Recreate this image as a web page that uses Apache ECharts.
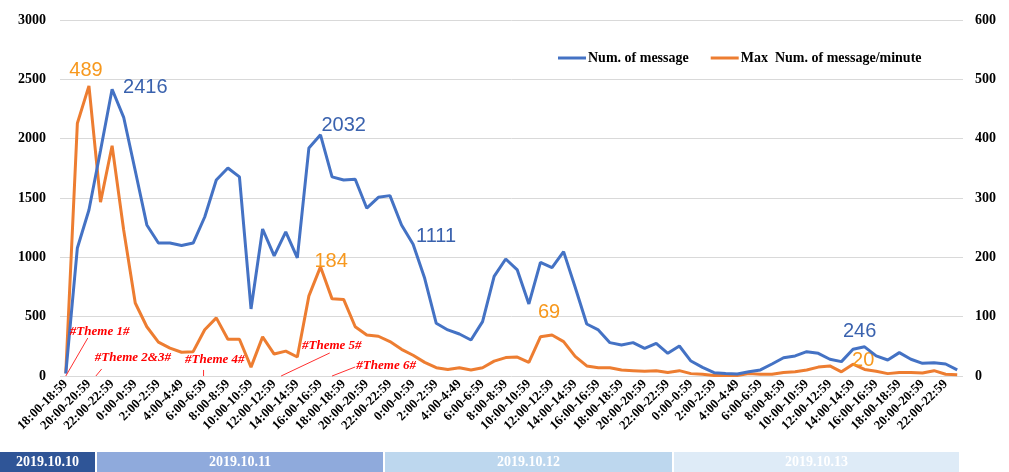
<!DOCTYPE html>
<html>
<head>
<meta charset="utf-8">
<script src="https://cdn.jsdelivr.net/npm/echarts@6/dist/echarts.min.js"></script>
<style>
html,body{margin:0;padding:0;background:#fff;}
#chart{width:1009px;height:472px;}
</style>
</head>
<body>
<div id="chart"></div>
<script>
// ---- data ----
var firstDayHours = ['18:00-18:59','19:00-19:59','20:00-20:59','21:00-21:59','22:00-22:59','23:00-23:59'];
var fullDayHours = ['0:00-0:59','1:00-1:59','2:00-2:59','3:00-3:59','4:00-4:49','5:00-5:59',
  '6:00-6:59','7:00-7:59','8:00-8:59','9:00-9:59','10:00-10:59','11:00-11:59',
  '12:00-12:59','13:00-13:59','14:00-14:59','15:00-15:59','16:00-16:59','17:00-17:59',
  '18:00-18:59','19:00-19:59','20:00-20:59','21:00-21:59','22:00-22:59','23:00-23:59'];
var categories = firstDayHours.concat(fullDayHours, fullDayHours, fullDayHours);

var seriesNames = ['Num. of message', 'Max  Num. of message/minute'];

var numMessage = [
  20,1079,1399,1900,2416,2180,1730,1273,1121,1120,1100,1120,
  1340,1652,1753,1678,565,1239,1012,1214,995,1922,2032,1678,
  1652,1658,1414,1506,1520,1273,1111,823,444,388,354,303,
  458,840,986,894,607,958,913,1048,748,438,388,281,
  261,281,233,275,191,253,126,73,28,22,17,36,
  51,101,154,169,205,191,141,121,225,246,169,135,
  197,141,107,112,101,51
];
var maxPerMinute = [
  5,426,489,293,388,246,123,83,57,47,40,41,
  78,98,62,62,15,66,37,42,32,135,184,130,
  129,83,69,67,58,45,35,23,14,11,14,10,
  14,25,31,32,23,66,69,58,33,17,14,14,
  10,9,8,9,6,9,4,3,1,1,1,4,
  3,3,6,7,10,15,17,7,20,11,8,4,
  6,6,5,9,3,2
];

var leftTicks = {min: 0, max: 3000, interval: 500};
var rightTicks = {min: 0, max: 600, interval: 100};

var blueLabelIdx = [4, 22, 30, 69];
var orangeLabelIdx = [2, 22, 42, 68];

var days = ['2019.10.10', '2019.10.11', '2019.10.12', '2019.10.13'];

var themes = [
  {text: '#Theme 1#',   from: [0, 0],    to: [1.9, 320],  at: [0.35, 371]},
  {text: '#Theme 2&3#', from: [2.6, 0],  to: [3.1, 59],   at: [2.5, 152]},
  {text: '#Theme 4#',   from: [11.9, 0], to: [11.9, 51],  at: [10.3, 135]},
  {text: '#Theme 5#',   from: [18.6, 0], to: [22.8, 194], at: [20.4, 253]},
  {text: '#Theme 6#',   from: [23.0, 0], to: [25.0, 76],  at: [25.1, 84]}
];

// ---- styling / layout ----
var serif = "'Liberation Serif','Times New Roman',serif";
var sans = "'Liberation Sans',Arial,sans-serif";
var BLUE = '#4472C4', ORANGE = '#ED7D31';
var BLUE_LBL = '#3A62AE', ORANGE_LBL = '#F7981D';

var blueLabelCfg = {
  4:  {position: 'right', offset: [6, -2]},
  22: {position: 'right', offset: [-4, -9]},
  30: {position: 'right', offset: [-2, -8]},
  69: {position: 'top', offset: [-5, 0]}
};
var orangeLabelCfg = {
  2:  {position: 'top', offset: [-3, 0]},
  22: {position: 'right', offset: [-11, -5]},
  42: {position: 'top', offset: [-3, -8]},
  68: {position: 'right', offset: [-6, -4]}
};

function buildData(values, idxList, cfg, color) {
  return values.map(function (v, i) {
    if (idxList.indexOf(i) >= 0) {
      var c = cfg[i];
      return {value: v, label: {show: true, position: c.position, offset: c.offset,
        color: color, fontSize: 20, fontFamily: sans, distance: 5}};
    }
    return v;
  });
}

var chart = echarts.init(document.getElementById('chart'), null, {renderer: 'canvas'});

var option = {
  animation: false,
  backgroundColor: '#fff',
  grid: {left: 60, right: 46, top: 20, bottom: 96, containLabel: false},
  legend: {
    data: seriesNames,
    left: 553, top: 46,
    icon: 'rect', itemWidth: 28, itemHeight: 3, itemGap: 22,
    textStyle: {fontFamily: serif, fontWeight: 'bold', fontSize: 14, color: '#000', padding: [0,0,0,-3]}
  },
  xAxis: {
    type: 'category',
    data: categories,
    boundaryGap: true,
    axisLine: {show: false},
    axisTick: {show: false},
    axisLabel: {interval: 1, rotate: 45, margin: 6, color: '#000',
      fontFamily: serif, fontWeight: 'bold', fontSize: 13}
  },
  yAxis: [
    {type: 'value', min: leftTicks.min, max: leftTicks.max, interval: leftTicks.interval,
      axisLine: {show: false}, axisTick: {show: false},
      splitLine: {lineStyle: {color: '#D9D9D9', width: 1}},
      axisLabel: {margin: 14, color: '#000', fontFamily: serif, fontWeight: 'bold', fontSize: 14,
        formatter: function (v) { return String(v); }}},
    {type: 'value', min: rightTicks.min, max: rightTicks.max, interval: rightTicks.interval,
      position: 'right',
      axisLine: {show: false}, axisTick: {show: false}, splitLine: {show: false},
      axisLabel: {margin: 12, color: '#000', fontFamily: serif, fontWeight: 'bold', fontSize: 14,
        formatter: function (v) { return String(v); }}}
  ],
  series: [
    {name: seriesNames[0], type: 'line', yAxisIndex: 0,
      data: buildData(numMessage, blueLabelIdx, blueLabelCfg, BLUE_LBL),
      symbol: 'circle', symbolSize: 0, showSymbol: true,
      itemStyle: {color: BLUE}, lineStyle: {color: BLUE, width: 3}, z: 3},
    {name: seriesNames[1], type: 'line', yAxisIndex: 1,
      data: buildData(maxPerMinute, orangeLabelIdx, orangeLabelCfg, ORANGE_LBL),
      symbol: 'circle', symbolSize: 0, showSymbol: true,
      itemStyle: {color: ORANGE}, lineStyle: {color: ORANGE, width: 3}, z: 2}
  ]
};
chart.setOption(option);

// ---- annotations and date band ----
var finder = {xAxisIndex: 0, yAxisIndex: 0};
var p0 = chart.convertToPixel(finder, [0, 0]);
var p1 = chart.convertToPixel(finder, [1, 0]);
var step = p1[0] - p0[0];
function px(pt) {
  var y = chart.convertToPixel(finder, [0, pt[1]])[1];
  return [p0[0] + pt[0] * step, y];
}
var graphics = [];
themes.forEach(function (t) {
  var a = px(t.from), b = px(t.to), c = px(t.at);
  graphics.push({type: 'line', shape: {x1: a[0], y1: a[1], x2: b[0], y2: b[1]},
    style: {stroke: '#FF3030', lineWidth: 1}, z: 10});
  graphics.push({type: 'text', x: c[0], y: c[1],
    style: {text: t.text, fill: '#FF0000', font: 'italic bold 13px ' + serif,
      textVerticalAlign: 'middle', verticalAlign: 'middle'}, z: 10});
});
var bandColors = ['#2F5597', '#8FAADC', '#BDD7EE', '#DEEBF7'];
var bandX = [0, 97, 385, 674, 961];
days.forEach(function (d, i) {
  var x0 = bandX[i], x1 = bandX[i + 1] - 2;
  graphics.push({type: 'rect', shape: {x: x0, y: 452, width: x1 - x0, height: 20},
    style: {fill: bandColors[i]}, z: 5});
  graphics.push({type: 'text', x: (x0 + x1) / 2, y: 462,
    style: {text: d, fill: '#fff', font: 'bold 14px ' + serif,
      align: 'center', textAlign: 'center', verticalAlign: 'middle', textVerticalAlign: 'middle'}, z: 6});
});
chart.setOption({graphic: graphics});
</script>
</body>
</html>
